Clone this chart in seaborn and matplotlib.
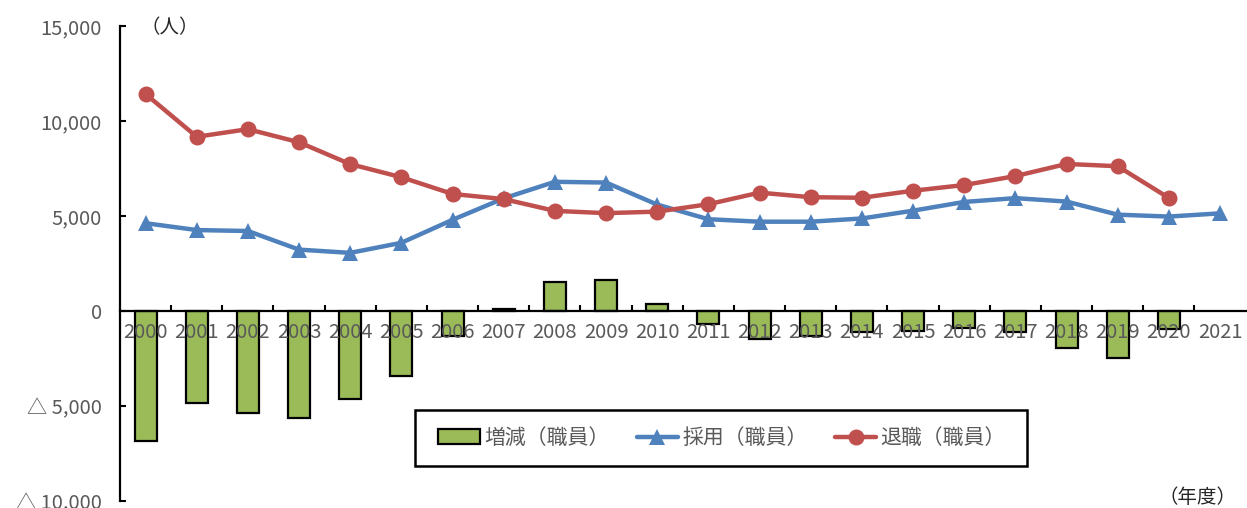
import numpy as np
import pandas as pd
import matplotlib
matplotlib.use("Agg")
import matplotlib.pyplot as plt
from matplotlib.ticker import FixedLocator
from matplotlib.patches import Rectangle
import seaborn as sns

# ---- data ----
years = [str(y) for y in range(2000, 2022)]
hire = [4620, 4260, 4210, 3230, 3060, 3590, 4800, 5930, 6800, 6760, 5600,
        4830, 4700, 4700, 4870, 5280, 5740, 5940, 5760, 5070, 4970, 5140]
retire = [11420, 9170, 9570, 8880, 7730, 7040, 6160, 5890, 5270, 5150, 5230,
          5620, 6230, 5990, 5960, 6330, 6630, 7100, 7740, 7620, 5950, np.nan]
change = [-6830, -4860, -5350, -5650, -4640, -3430, -1320, 90, 1540, 1620, 360,
          -690, -1490, -1300, -1080, -1050, -880, -1110, -1960, -2490, -960, np.nan]
yticks = [-10000, -5000, 0, 5000, 10000, 15000]
ytick_labels = ["△ 10,000", "△ 5,000", "0", "5,000", "10,000", "15,000"]
label_change = "増減（職員）"
label_hire = "採用（職員）"
label_retire = "退職（職員）"

GREEN = "#9BBB59"
BLUE = "#4F81BD"
RED = "#C0504D"
GRAY = "#595959"

sns.set_theme(style="white")
plt.rcParams["font.family"] = ["Noto Sans CJK JP", "DejaVu Sans"]

W, H = 1247, 508
fig = plt.figure(figsize=(W / 100, H / 100), dpi=100)
ax = fig.add_axes([120 / W, 7 / H, 1125.6 / W, 475 / H])
ax.set_axisbelow(False)

df = pd.DataFrame({"year": years, "change": change})
sns.barplot(data=df, x="year", y="change", order=years, color=GREEN,
            saturation=1, width=0.43, edgecolor="black", linewidth=1.6,
            label=label_change, ax=ax, zorder=1)

xpos = np.arange(len(years))
sns.lineplot(x=xpos, y=hire, color=BLUE, linewidth=3.2, marker="^",
             markersize=11, markeredgewidth=0, label=label_hire, ax=ax,
             zorder=3)
sns.lineplot(x=xpos, y=retire, color=RED, linewidth=3.2, marker="o",
             markersize=11.5, markeredgewidth=0, label=label_retire, ax=ax,
             zorder=4)

ax.set_xlim(-0.5, len(years) - 0.5)
ax.set_ylim(-10000, 15000)
ax.set_xlabel("")
ax.set_ylabel("")

# spines
for s in ["top", "right"]:
    ax.spines[s].set_visible(False)
ax.spines["left"].set_color("black")
ax.spines["left"].set_linewidth(1.6)
ax.spines["bottom"].set_position(("data", 0))
ax.spines["bottom"].set_color("black")
ax.spines["bottom"].set_linewidth(1.6)

# y axis
ax.set_yticks(yticks)
ax.set_yticklabels(ytick_labels)
ax.tick_params(axis="y", direction="in", length=4.5, width=1.5,
               color="black", pad=13, labelsize=14.5, labelcolor=GRAY,
               left=True)

# x axis
ax.set_xticks(xpos)
ax.set_xticklabels(years)
ax.xaxis.set_minor_locator(FixedLocator(np.arange(0.5, len(years) - 1, 1.0)))
ax.tick_params(axis="x", which="major", length=0, pad=8, labelsize=14.5,
               labelcolor=GRAY)
ax.tick_params(axis="x", which="minor", direction="in", length=4.5,
               width=1.5, color="black", bottom=True)
ax.grid(False)

# unit labels
ax.text(0.044, 0.996, "（人）", transform=ax.transAxes, ha="center",
        va="center", fontsize=14, color="#262626")
ax.text(0.957, 0.008, "（年度）", transform=ax.transAxes, ha="center",
        va="center", fontsize=14, color="#262626")

# legend (frame drawn as a separate box)
handles, labels = ax.get_legend_handles_labels()
order = [labels.index(label_change), labels.index(label_hire),
         labels.index(label_retire)]
leg = ax.legend([handles[i] for i in order], [labels[i] for i in order],
                loc="center", bbox_to_anchor=(0.535, 0.1326), ncol=3,
                frameon=False, fontsize=15, handlelength=2.0,
                handletextpad=0.2, columnspacing=1.3, borderpad=0.3,
                labelcolor=GRAY)
leg.set_zorder(6)
box = Rectangle((0.2621, 0.0737), 0.5437, 0.1179, transform=ax.transAxes,
                facecolor="white", edgecolor="black", linewidth=1.8,
                zorder=5, clip_on=False)
ax.add_patch(box)

fig.savefig("out.png", dpi=100)
